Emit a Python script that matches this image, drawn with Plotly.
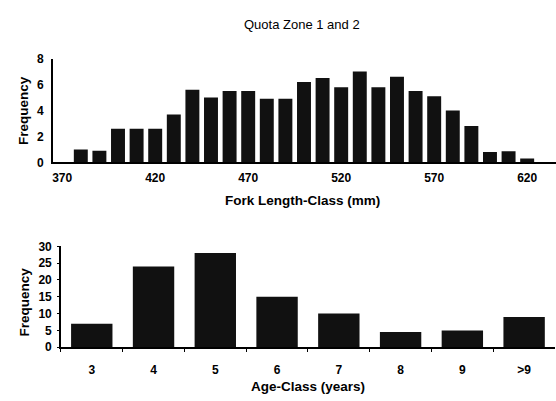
import plotly.graph_objects as go

# Fork length classes (mm) and their frequencies
length_class = [370, 380, 390, 400, 410, 420, 430, 440, 450, 460, 470, 480, 490,
                500, 510, 520, 530, 540, 550, 560, 570, 580, 590, 600, 610, 620, 630]
length_freq = [0, 1.0, 0.9, 2.6, 2.6, 2.6, 3.7, 5.6, 5.0, 5.5, 5.5, 4.9, 4.9,
               6.2, 6.5, 5.8, 7.0, 5.8, 6.6, 5.5, 5.1, 4.0, 2.8, 0.8, 0.85, 0.3, 0]
length_ticks = [370, 420, 470, 520, 570, 620]

# Age classes (years) and their frequencies
age_class = ["3", "4", "5", "6", "7", "8", "9", ">9"]
age_freq = [7, 24, 28, 15, 10, 4.5, 5, 9]

W, H = 556, 401
BAR = "#111111"
FONT = "Liberation Sans, Arial, Helvetica, sans-serif"


def px_x(p):
    return p / W


def px_y(p):
    return 1 - p / H


fig = go.Figure()

fig.add_trace(go.Bar(x=length_class, y=length_freq, width=7.5,
                     marker=dict(color=BAR, line=dict(width=0)),
                     xaxis="x", yaxis="y", showlegend=False))
fig.add_trace(go.Bar(x=age_class, y=age_freq,
                     marker=dict(color=BAR, line=dict(width=0)),
                     xaxis="x2", yaxis="y2", showlegend=False))

tickfont = dict(family=FONT, size=12, color="black", weight="bold")
axis_common = dict(showgrid=False, zeroline=False, showline=True,
                   linecolor="black", linewidth=1.5, tickfont=tickfont)

fig.update_layout(
    width=W, height=H,
    margin=dict(l=0, r=0, t=0, b=0),
    paper_bgcolor="white", plot_bgcolor="white",
    bargap=0.33,
    xaxis=dict(domain=[px_x(52), 1.0], range=[365, 635.5],
               tickmode="array", tickvals=length_ticks, ticks="",
               ticklabelstandoff=3, anchor="y", **axis_common),
    yaxis=dict(domain=[px_y(161), px_y(53.5)], range=[0, 8],
               tickmode="array", tickvals=[0, 2, 4, 6, 8], ticks="",
               ticklabelstandoff=5, anchor="x", **axis_common),
    xaxis2=dict(domain=[px_x(60), px_x(555)], range=[-0.5, 7.5],
                type="category", tickson="boundaries", ticks="outside",
                ticklen=3, tickcolor="black", ticklabelstandoff=11,
                anchor="y2", **axis_common),
    yaxis2=dict(domain=[px_y(352.5), px_y(248)], range=[0, 30],
                tickmode="array", tickvals=[0, 5, 10, 15, 20, 25, 30],
                ticks="outside", ticklen=2, tickcolor="black",
                ticklabelstandoff=3, anchor="x2", **axis_common),
)

title_font = dict(family=FONT, size=13.5, color="black", weight="bold")
annotations = [
    dict(text="Quota Zone 1 and 2", x=px_x(301.5), y=px_y(18),
         font=dict(family=FONT, size=13, color="black")),
    dict(text="Fork Length-Class (mm)", x=px_x(302.5), y=px_y(201), font=title_font),
    dict(text="Frequency", x=px_x(23), y=px_y(106.7), textangle=-90, font=title_font),
    dict(text="Frequency", x=px_x(23.3), y=px_y(306), textangle=-90, font=title_font),
    dict(text="Age-Class (years)", x=px_x(307.5), y=px_y(393), font=title_font),
]
for a in annotations:
    fig.add_annotation(xref="paper", yref="paper", showarrow=False,
                       xanchor="center", yanchor="middle", **a)

fig.write_html("out.html")
